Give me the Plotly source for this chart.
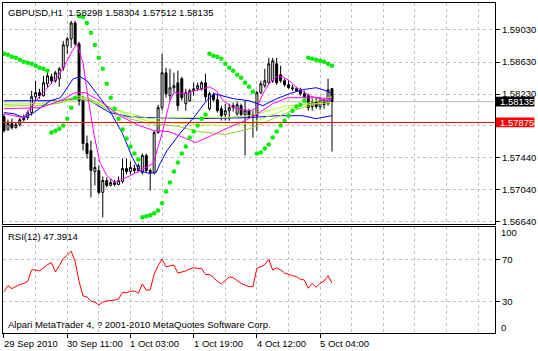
import plotly.graph_objects as go

# ---------------- data ----------------
bar_index = list(range(84))

opens = [
    1.57948, 1.57786, 1.57861, 1.57811, 1.57848, 1.57910, 1.57935, 1.57998, 1.58197, 1.58247,
    1.58209, 1.58359, 1.58446, 1.58396, 1.58421, 1.58558, 1.58832, 1.58919, 1.59118, 1.58857,
    1.58147, 1.57612, 1.57524, 1.57263, 1.57275, 1.57002, 1.57151, 1.57089, 1.57126, 1.57101,
    1.57139, 1.57300, 1.57263, 1.57300, 1.57275, 1.57251, 1.57462, 1.57275, 1.57251, 1.57749,
    1.58060, 1.58496, 1.58209, 1.58309, 1.58371, 1.58421, 1.58110, 1.58147, 1.58271, 1.58296,
    1.58296, 1.58371, 1.58047, 1.58222, 1.58159, 1.58047, 1.57973, 1.58022, 1.58060, 1.57985,
    1.58085, 1.57973, 1.58022, 1.57948, 1.57960, 1.58247, 1.58334, 1.58371, 1.58396, 1.58608,
    1.58471, 1.58396, 1.58346, 1.58309, 1.58296, 1.58284, 1.58234, 1.58209, 1.58072, 1.58135,
    1.58072, 1.58159, 1.58110, 1.58298]
highs = [
    1.57985, 1.57910, 1.57923, 1.57873, 1.57935, 1.57973, 1.58022, 1.58271, 1.58396, 1.58296,
    1.58458, 1.58496, 1.58483, 1.58520, 1.58570, 1.58894, 1.58944, 1.59143, 1.59143, 1.58882,
    1.58209, 1.57711, 1.57649, 1.57437, 1.57338, 1.57201, 1.57188, 1.57176, 1.57163, 1.57201,
    1.57425, 1.57425, 1.57388, 1.57350, 1.57363, 1.57487, 1.57487, 1.57300, 1.57773, 1.58097,
    1.58732, 1.58558, 1.58545, 1.58496, 1.58520, 1.58446, 1.58296, 1.58296, 1.58371, 1.58371,
    1.58396, 1.58483, 1.58259, 1.58247, 1.58234, 1.58085, 1.58110, 1.58110, 1.58122, 1.58135,
    1.58110, 1.58147, 1.58047, 1.58022, 1.58271, 1.58396, 1.58545, 1.58682, 1.58682, 1.58682,
    1.58583, 1.58421, 1.58408, 1.58346, 1.58321, 1.58309, 1.58271, 1.58234, 1.58172, 1.58184,
    1.58197, 1.58172, 1.58421, 1.58304]
lows = [
    1.57749, 1.57773, 1.57786, 1.57798, 1.57823, 1.57886, 1.57910, 1.57960, 1.58147, 1.58172,
    1.58197, 1.58309, 1.58359, 1.58371, 1.58321, 1.58520, 1.58732, 1.58807, 1.58832, 1.58085,
    1.57524, 1.57425, 1.56939, 1.57089, 1.56977, 1.56690, 1.57064, 1.57076, 1.57076, 1.57089,
    1.57114, 1.57226, 1.57226, 1.57238, 1.57251, 1.57226, 1.57251, 1.57026, 1.57226, 1.57736,
    1.58022, 1.58184, 1.58147, 1.58247, 1.58022, 1.58147, 1.58022, 1.58135, 1.58209, 1.58271,
    1.58271, 1.58147, 1.58022, 1.58135, 1.57998, 1.57898, 1.57898, 1.57898, 1.58010, 1.57960,
    1.57948, 1.57462, 1.57923, 1.57686, 1.57773, 1.58234, 1.58309, 1.58359, 1.58371, 1.58346,
    1.58371, 1.58321, 1.58296, 1.58271, 1.58259, 1.58209, 1.58172, 1.58022, 1.58022, 1.58047,
    1.58035, 1.58047, 1.58085, 1.57512]
closes = [
    1.57773, 1.57861, 1.57811, 1.57848, 1.57910, 1.57935, 1.57998, 1.58197, 1.58247, 1.58209,
    1.58371, 1.58458, 1.58396, 1.58496, 1.58545, 1.58844, 1.58919, 1.59118, 1.58857, 1.58147,
    1.57612, 1.57487, 1.57275, 1.57313, 1.57002, 1.57151, 1.57089, 1.57126, 1.57101, 1.57151,
    1.57300, 1.57263, 1.57313, 1.57275, 1.57338, 1.57462, 1.57275, 1.57251, 1.57749, 1.58060,
    1.58496, 1.58234, 1.58309, 1.58334, 1.58085, 1.58184, 1.58247, 1.58271, 1.58296, 1.58334,
    1.58371, 1.58197, 1.58234, 1.58159, 1.58022, 1.57960, 1.58022, 1.58060, 1.58085, 1.58097,
    1.57973, 1.58022, 1.57948, 1.57973, 1.58247, 1.58359, 1.58396, 1.58608, 1.58645, 1.58371,
    1.58396, 1.58346, 1.58309, 1.58296, 1.58271, 1.58234, 1.58197, 1.58060, 1.58135, 1.58072,
    1.58159, 1.58097, 1.58284, 1.58135]

sar = [
    1.58732, 1.58720, 1.58695, 1.58682, 1.58657, 1.58633, 1.58620, 1.58608, 1.58583, 1.58558, 1.58545, 1.58520,
    1.57749, 1.57773, 1.57798, 1.57836, 1.57923, 1.58060, 1.58184,
    1.59205, 1.59193, 1.59118, 1.58994, 1.58844, 1.58682, 1.58545, 1.58359, 1.58184, 1.58047, 1.57923,
    1.57786, 1.57674, 1.57574, 1.57487, 1.57412,
    1.56690, 1.56703, 1.56715, 1.56740, 1.56777, 1.56865, 1.57014, 1.57126, 1.57263, 1.57375,
    1.57487, 1.57574, 1.57686, 1.57761, 1.57836, 1.57923, 1.57973,
    1.58732, 1.58707, 1.58695, 1.58670, 1.58608, 1.58558, 1.58520, 1.58471, 1.58433, 1.58371, 1.58321, 1.58259,
    1.57487, 1.57500, 1.57549, 1.57599, 1.57686, 1.57761, 1.57836, 1.57898, 1.57960, 1.58022, 1.58072, 1.58097, 1.58147,
    1.58682, 1.58670, 1.58657, 1.58645, 1.58633, 1.58608, 1.58583]

rsi = [
    39, 45, 42, 44, 46, 47, 49, 60, 60, 59,
    62, 65, 67, 58, 64, 71, 74, 78, 68, 49,
    35, 34, 30, 29, 26.5, 29, 30.3, 30.3, 31, 32,
    38.6, 38, 39.5, 39.8, 37.6, 46.5, 40.5, 41, 56, 64,
    70.3, 63, 64, 64.6, 57, 58, 59, 61, 62, 61.4,
    61.4, 55.7, 55.5, 53, 49, 46.5, 50, 53.4, 52.5, 50,
    47, 45.5, 44, 44, 61.4, 63, 65, 70, 59.8, 62,
    60, 57, 55.5, 54.4, 53.6, 51, 50.3, 42.4, 47.1, 43.3,
    47.1, 49.3, 54.4, 47.39]

mag_fast_x = [0, 2.5, 5, 6.75, 8.5, 11, 13.75, 16, 17.25, 18.5, 20, 21.25, 22.75, 24.25, 26, 28, 31,
              34.5, 37.75, 40, 41, 42, 43, 46.25, 48, 50.5, 52, 53.75, 55.5, 58, 60.5, 62.5, 64,
              65.5, 67.25, 69, 70.5, 72.25, 74, 75.5, 77.25, 79, 81.5, 83]
mag_fast_y = [1.57985, 1.57960, 1.57935, 1.58060, 1.58172, 1.58309, 1.58458, 1.58645, 1.58770, 1.58857,
              1.58620, 1.58184, 1.57736, 1.57375, 1.57213, 1.57126, 1.57188, 1.57275, 1.57363, 1.57736,
              1.57960, 1.58147, 1.58247, 1.58234, 1.58271, 1.58296, 1.58321, 1.58271, 1.58147, 1.58060,
              1.58035, 1.58022, 1.58060, 1.58234, 1.58371, 1.58446, 1.58446, 1.58396, 1.58309, 1.58271,
              1.58209, 1.58184, 1.58147, 1.58172]
mag_slow_x = [0, 9.25, 14.25, 18, 20.5, 24.25, 29.25, 34.25, 38, 41.75, 44.25, 48.5, 52.5, 56.75, 61,
              64.25, 68, 71.75, 79.25, 83]
mag_slow_y = [1.58047, 1.58060, 1.58147, 1.58247, 1.58247, 1.58147, 1.57960, 1.57836, 1.57773, 1.57761,
              1.57711, 1.57624, 1.57711, 1.57811, 1.57898, 1.57985, 1.58110, 1.58184, 1.58184, 1.58172]
blue_fast_x = [0, 2.5, 5, 7.5, 11.75, 14.25, 16, 17.5, 19.25, 21, 23.5, 26.75, 30, 32.5, 34.25, 36.75,
               38.5, 39.5, 41.25, 44.5, 48, 51.25, 53.25, 55.5, 58, 62, 65.5, 69, 72.25, 75.5, 79, 81.5, 83]
blue_fast_y = [1.57998, 1.57985, 1.57935, 1.57998, 1.58147, 1.58184, 1.58309, 1.58421, 1.58446, 1.58396,
               1.58234, 1.58022, 1.57736, 1.57437, 1.57275, 1.57238, 1.57251, 1.57363, 1.57524, 1.57736,
               1.57935, 1.58147, 1.58234, 1.58209, 1.58172, 1.58147, 1.58085, 1.58172, 1.58234, 1.58284,
               1.58309, 1.58271, 1.58234]
blue_slow_x = [0, 13.5, 18, 21.75, 26.75, 31.75, 37, 49.25, 62, 69.25, 75.5, 79, 83]
blue_slow_y = [1.58147, 1.58147, 1.58172, 1.58147, 1.57998, 1.57948, 1.57935, 1.57923, 1.57935, 1.57960,
               1.57960, 1.57923, 1.57960]
green1_x = [0, 9.25, 14.25, 18.75, 21.75, 26.75, 31.75, 36.75, 40.5, 44.25, 49.25, 56, 62.25, 71.75, 83]
green1_y = [1.58097, 1.58085, 1.58122, 1.58209, 1.58172, 1.58022, 1.57923, 1.57861, 1.57848, 1.57823,
            1.57761, 1.57724, 1.57798, 1.57998, 1.58172]
green2_x = [0, 9.25, 18.75, 24.25, 31.75, 36.75, 41.75, 49.25, 56.75, 62.25, 71.75, 83]
green2_y = [1.58122, 1.58110, 1.58197, 1.58122, 1.57960, 1.57886, 1.57873, 1.57848, 1.57836, 1.57861,
            1.58047, 1.58197]
green3_x = [0, 11.75, 19.25, 29.25, 36.75, 41.75, 55.5, 62.25, 71.75, 83]
green3_y = [1.58072, 1.58097, 1.58172, 1.58022, 1.57923, 1.57935, 1.57935, 1.57960, 1.58085, 1.58122]

price_ticks = [1.56640, 1.57040, 1.57440, 1.57840, 1.58230, 1.58630, 1.59030]
price_tick_text = ["1.56640", "1.57040", "1.57440", "", "1.58230", "1.58630", "1.59030"]
time_tick_bars = [0, 16, 32, 48, 64, 80]
time_tick_text = ["29 Sep 2010", "30 Sep 11:00", "1 Oct 03:00", "1 Oct 19:00", "4 Oct 12:00", "5 Oct 04:00"]
rsi_ticks = [30, 70]
last_price = 1.58135
hline_price = 1.57875
header = "GBPUSD,H1  1.58298 1.58304 1.57512 1.58135"
rsi_title = "RSI(12) 47.3914"
copyright_text = "Alpari MetaTrader 4, ? 2001-2010 MetaQuotes Software Corp."

# ---------------- figure ----------------
FONT = "Liberation Sans, Arial, sans-serif"
FS = 9.5
GRID = "#C0C0C0"

fig = go.Figure()

fig.add_trace(go.Candlestick(
    x=bar_index, open=opens, high=highs, low=lows, close=closes,
    increasing=dict(line=dict(color="black", width=1), fillcolor="white"),
    decreasing=dict(line=dict(color="black", width=1), fillcolor="black"),
    whiskerwidth=0, xaxis="x", yaxis="y", showlegend=False, hoverinfo="skip"))

for xs, ys, col in [
    (blue_slow_x, blue_slow_y, "#0000FF"),
    (green3_x, green3_y, "#ADFF2F"),
    (green2_x, green2_y, "#ADFF2F"),
    (green1_x, green1_y, "#9ACD32"),
    (blue_fast_x, blue_fast_y, "#0000FF"),
    (mag_slow_x, mag_slow_y, "#FF00FF"),
    (mag_fast_x, mag_fast_y, "#FF00FF"),
]:
    fig.add_trace(go.Scatter(x=xs, y=ys, mode="lines", line=dict(color=col, width=1),
                             xaxis="x", yaxis="y", showlegend=False, hoverinfo="skip"))

fig.add_trace(go.Scatter(x=bar_index, y=sar, mode="markers",
                         marker=dict(color="#00EE00", size=4.5, symbol="circle", line=dict(width=0)),
                         xaxis="x", yaxis="y", showlegend=False, hoverinfo="skip"))

fig.add_trace(go.Scatter(x=bar_index, y=rsi, mode="lines", line=dict(color="#FF0000", width=1),
                         xaxis="x2", yaxis="y2", showlegend=False, hoverinfo="skip"))

xr = [-0.25, 124.25]
grid_bars = list(range(8, 121, 8))
axis_common = dict(showline=True, linecolor="black", linewidth=1, mirror=True, zeroline=False)

fig.update_layout(
    width=538, height=351,
    margin=dict(l=2, r=38, t=2, b=18),
    paper_bgcolor="white", plot_bgcolor="white",
    font=dict(family=FONT, size=FS, color="black"),
    showlegend=False,
    xaxis=dict(domain=[0, 1], range=xr, anchor="y", tickvals=grid_bars, showticklabels=False,
               ticks="", showgrid=True, gridcolor=GRID, griddash="3px,3px", gridwidth=1,
               rangeslider=dict(visible=False), **axis_common),
    yaxis=dict(domain=[0.32931, 1], range=[1.56603, 1.59367], side="right", anchor="x",
               tickvals=price_ticks, ticktext=price_tick_text,
               ticks="outside", ticklen=4, tickcolor="black", showgrid=True, gridcolor=GRID,
               griddash="3px,3px", gridwidth=1, tickfont=dict(family=FONT, size=FS), **axis_common),
    xaxis2=dict(domain=[0, 1], range=xr, anchor="y2", tickvals=time_tick_bars, showticklabels=False,
                ticks="outside", ticklen=4, tickcolor="black", showgrid=False,
                minor=dict(tickvals=grid_bars, showgrid=True, gridcolor=GRID, griddash="3px,3px",
                           gridwidth=1, ticks=""),
                **axis_common),
    yaxis2=dict(domain=[0, 0.32024], range=[-0.5, 100.8], side="right", anchor="x2",
                tickvals=rsi_ticks, ticktext=[str(v) for v in rsi_ticks], ticks="outside", ticklen=4,
                tickcolor="black", showgrid=True, gridcolor=GRID, griddash="3px,3px", gridwidth=1,
                tickfont=dict(family=FONT, size=FS), **axis_common),
)

half = 0.00061
shapes = [
    dict(type="line", xref="paper", x0=0, x1=1, yref="y", y0=last_price, y1=last_price,
         line=dict(color="#C0C0C0", width=1), layer="below"),
    dict(type="line", xref="paper", x0=0, x1=1, yref="y", y0=hline_price, y1=hline_price,
         line=dict(color="#FF0000", width=1), layer="above"),
    dict(type="rect", xref="paper", x0=1.002, x1=1.08, yref="y", y0=last_price - half, y1=last_price + half,
         fillcolor="black", line=dict(width=0), layer="above"),
    dict(type="rect", xref="paper", x0=1.002, x1=1.08, yref="y", y0=hline_price - half, y1=hline_price + half,
         fillcolor="#FF0000", line=dict(width=0), layer="above"),
]
fig.update_layout(shapes=shapes)

ann = []
ann.append(dict(xref="paper", x=1, xanchor="left", xshift=3, yref="y", y=last_price, yanchor="middle",
                text=f"{last_price:.5f}", showarrow=False, font=dict(color="white", size=FS, family=FONT)))
ann.append(dict(xref="paper", x=1, xanchor="left", xshift=3, yref="y", y=hline_price, yanchor="middle",
                text=f"{hline_price:.5f}", showarrow=False, font=dict(color="white", size=FS, family=FONT)))
ann.append(dict(xref="paper", x=0, xanchor="left", xshift=3, yref="paper", y=1, yanchor="top", yshift=-2,
                text=header, showarrow=False))
ann.append(dict(xref="paper", x=0, xanchor="left", xshift=3, yref="y2 domain", y=1, yanchor="top", yshift=-2,
                text=rsi_title, showarrow=False))
ann.append(dict(xref="paper", x=0, xanchor="left", xshift=3, yref="y2 domain", y=0, yanchor="bottom", yshift=1,
                text=copyright_text, showarrow=False))
ann.append(dict(xref="paper", x=1, xanchor="left", xshift=4, yref="y2", y=100, yanchor="middle", yshift=-4,
                text="100", showarrow=False))
ann.append(dict(xref="paper", x=1, xanchor="left", xshift=4, yref="y2", y=0, yanchor="middle", yshift=5,
                text="0", showarrow=False))
for b, t in zip(time_tick_bars, time_tick_text):
    ann.append(dict(xref="x2", x=b, xanchor="left", xshift=-2, yref="paper", y=0, yanchor="top", yshift=-3,
                    text=t, showarrow=False))
fig.update_layout(annotations=ann)

fig.write_html("out.html")
